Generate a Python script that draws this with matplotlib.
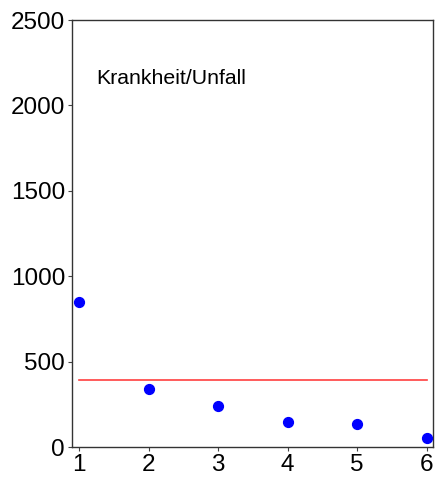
import matplotlib.pyplot as plt

# data
jahre = [1, 2, 3, 4, 5, 6]
werte = [847, 338, 240, 146, 137, 53]
mittel = 392
titel = "Krankheit/Unfall"

plt.rcParams['font.family'] = ['Liberation Sans', 'DejaVu Sans']

fig = plt.figure(figsize=(4.38, 4.82), dpi=100)
ax = fig.add_axes([72/438, 1 - 447/482, (433-72)/438, (447-20)/482])

ax.scatter(jahre, werte, s=50, c='#0000ff', zorder=3)
ax.plot([jahre[0], jahre[-1]], [mittel, mittel], color='#ff4040', lw=1.2)

ax.set_xlim(0.9, 6.09)
ax.set_ylim(0, 2500)
ax.set_xticks(jahre)
ax.set_yticks([0, 500, 1000, 1500, 2000, 2500])
ax.tick_params(labelsize=17.5, length=3, width=0.8, color='#444444', pad=2)
for s in ax.spines.values():
    s.set_color('#333333')
    s.set_linewidth(1)

ax.text(0.068, 0.85, titel, transform=ax.transAxes, fontsize=15.3)

fig.savefig('out.png', dpi=100)
